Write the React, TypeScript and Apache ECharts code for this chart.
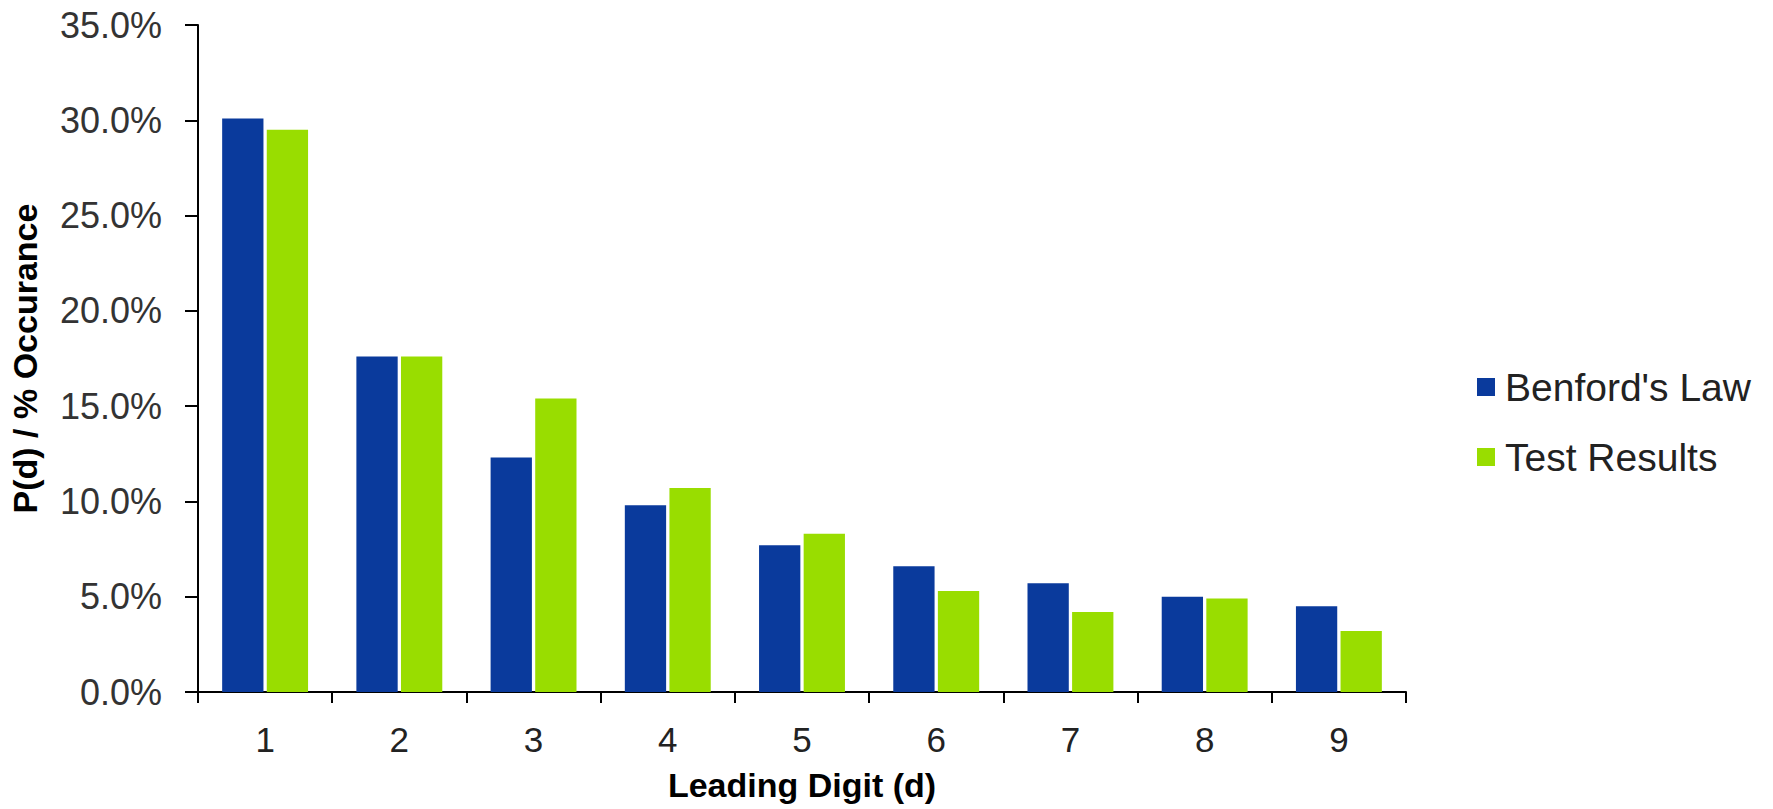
import React, { useEffect, useRef } from "react";
import * as echarts from "echarts";

const categories = ["1", "2", "3", "4", "5", "6", "7", "8", "9"];
const benford = [30.1, 17.6, 12.3, 9.8, 7.7, 6.6, 5.7, 5.0, 4.5];
const testResults = [29.5, 17.6, 15.4, 10.7, 8.3, 5.3, 4.2, 4.9, 3.2];
const seriesNames = ["Benford's Law", "Test Results"];

export default function App() {
  const ref = useRef<HTMLDivElement>(null);
  useEffect(() => {
    if (!ref.current) return;
    const chart = echarts.init(ref.current, undefined, { renderer: "svg" });
    chart.setOption({
      animation: false,
      backgroundColor: "#ffffff",
      textStyle: { fontFamily: "Liberation Sans, Arial, sans-serif" },
      grid: { left: 198, right: 367, top: 25, bottom: 117, containLabel: false },
      legend: {
        orient: "vertical",
        left: 1472,
        top: 362,
        itemWidth: 18,
        itemHeight: 18,
        itemGap: 30,
        icon: "rect",
        textStyle: { fontSize: 39, lineHeight: 40, color: "#222", padding: [0, 0, 0, 5] },
        data: seriesNames,
      },
      xAxis: {
        type: "category",
        data: categories,
        name: "Leading Digit (d)",
        nameLocation: "middle",
        nameGap: 76,
        nameTextStyle: { fontSize: 34, fontWeight: "bold", color: "#000" },
        axisLine: { lineStyle: { color: "#000", width: 2 } },
        axisTick: { show: true, length: 11, lineStyle: { color: "#000", width: 2 } },
        axisLabel: { fontSize: 35, color: "#222", margin: 30 },
      },
      yAxis: {
        type: "value",
        min: 0,
        max: 35,
        interval: 5,
        name: "P(d) / % Occurance",
        nameLocation: "middle",
        nameRotate: 90,
        nameGap: 156,
        nameTextStyle: { fontSize: 34, fontWeight: "bold", color: "#000" },
        axisLine: { show: true, lineStyle: { color: "#000", width: 2 } },
        axisTick: { show: true, length: 13, lineStyle: { color: "#000", width: 2 } },
        splitLine: { show: false },
        axisLabel: {
          fontSize: 36,
          color: "#333",
          margin: 36,
          formatter: (v: number) => v.toFixed(1) + "%",
        },
      },
      series: [
        {
          name: seriesNames[0],
          type: "bar",
          data: benford,
          itemStyle: { color: "#0A3A9C" },
          barGap: "8%",
          barCategoryGap: "36%",
        },
        {
          name: seriesNames[1],
          type: "bar",
          data: testResults,
          itemStyle: { color: "#99DD00" },
          barGap: "8%",
          barCategoryGap: "36%",
        },
      ],
    });
    return () => chart.dispose();
  }, []);
  return (
    <div
      ref={ref}
      style={{ position: "fixed", left: 0, top: 0, width: 1773, height: 809, background: "#fff" }}
    />
  );
}
